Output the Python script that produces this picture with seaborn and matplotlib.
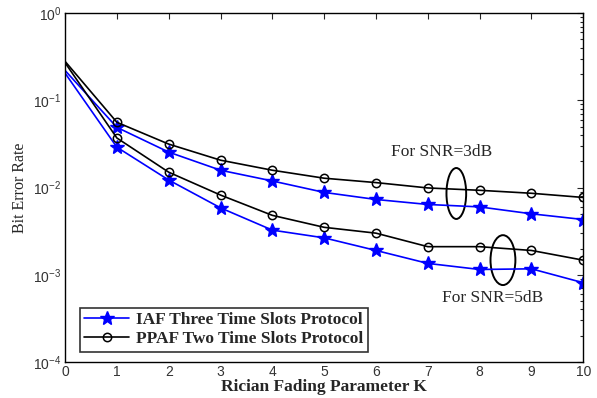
import numpy as np
import pandas as pd
import seaborn as sns
import matplotlib.pyplot as plt
from matplotlib.patches import Ellipse

# values
k = [0, 1, 2, 3, 4, 5, 6, 7, 8, 9, 10]
iaf_snr3 = [0.22, 0.049, 0.0255, 0.0158, 0.0119, 0.0088, 0.0073, 0.0064, 0.0060, 0.0050, 0.0043]
ppaf_snr3 = [0.28, 0.056, 0.0315, 0.0206, 0.0158, 0.0128, 0.0114, 0.0099, 0.0093, 0.0086, 0.0077]
iaf_snr5 = [0.205, 0.029, 0.0122, 0.00585, 0.00325, 0.00265, 0.0019, 0.00135, 0.00115, 0.00117, 0.00081]
ppaf_snr5 = [0.27, 0.037, 0.015, 0.0082, 0.0048, 0.0035, 0.0030, 0.0021, 0.0021, 0.0019, 0.00147]

df = pd.DataFrame({
    'K': k * 4,
    'BER': iaf_snr3 + ppaf_snr3 + iaf_snr5 + ppaf_snr5,
    'curve': ['IAF3'] * 11 + ['PPAF3'] * 11 + ['IAF5'] * 11 + ['PPAF5'] * 11,
})

sns.set_style('white')
plt.rcParams['font.family'] = ['Liberation Serif', 'DejaVu Serif']

fig = plt.figure(figsize=(5.97, 3.98), dpi=100)
ax = fig.add_axes([0.109, 0.0905, 0.868, 0.8765])

styles = {
    'IAF3': dict(color='#0000ff', marker='*', markersize=10, mfc='#0000ff', mec='#0000ff'),
    'IAF5': dict(color='#0000ff', marker='*', markersize=10, mfc='#0000ff', mec='#0000ff'),
    'PPAF3': dict(color='black', marker='o', markersize=6, mfc='none', mec='black', mew=1.1),
    'PPAF5': dict(color='black', marker='o', markersize=6, mfc='none', mec='black', mew=1.1),
}
labels = {'IAF3': 'IAF Three Time Slots Protocol', 'PPAF3': 'PPAF Two Time Slots Protocol'}

for name in ['IAF3', 'PPAF3', 'IAF5', 'PPAF5']:
    sub = df[df['curve'] == name]
    s = styles[name]
    sns.lineplot(data=sub, x='K', y='BER', ax=ax, color=s['color'], marker=s['marker'],
                 markersize=s['markersize'], markerfacecolor=s['mfc'],
                 markeredgecolor=s['mec'], markeredgewidth=s.get('mew', 1.0),
                 markevery=list(range(1, len(k))),
                 linewidth=1.2, label=labels.get(name, '_nolegend_'))

ax.set_yscale('log')
ax.set_xlim(0, 10)
ax.set_ylim(1e-4, 1)
ax.set_xticks(range(11))
ax.tick_params(which='both', direction='in', top=True, right=True, length=4,
               labelsize=10, width=0.8, pad=2.5)
ax.tick_params(which='minor', length=2.5)
for lab in ax.get_xticklabels() + ax.get_yticklabels():
    lab.set_family(['Liberation Sans', 'DejaVu Sans'])
    lab.set_color('#333333')
for sp in ax.spines.values():
    sp.set_linewidth(1.0)
    sp.set_color('black')

ax.set_xlabel('Rician Fading Parameter K', fontsize=12.5, fontweight='bold', labelpad=0)
ax.set_ylabel('Bit Error Rate', fontsize=11.5, labelpad=4)

# annotation ellipses and text
ax.add_patch(Ellipse((0.755, 0.483), 0.038, 0.146, transform=ax.transAxes,
                     fill=False, edgecolor='black', linewidth=1.4))
ax.add_patch(Ellipse((0.845, 0.292), 0.048, 0.143, transform=ax.transAxes,
                     fill=False, edgecolor='black', linewidth=1.4))
ax.text(0.726, 0.602, 'For SNR=3dB', transform=ax.transAxes, fontsize=12.5,
        ha='center', va='center')
ax.text(0.826, 0.183, 'For SNR=5dB', transform=ax.transAxes, fontsize=12.5,
        ha='center', va='center')

leg = ax.legend(loc='lower left', bbox_to_anchor=(0.012, 0.005), fancybox=False,
                framealpha=1, edgecolor='#333333', handlelength=2.6,
                prop={'family': ['Liberation Serif'], 'weight': 'bold', 'size': 12.5},
                borderpad=0.25, labelspacing=0.15, handletextpad=0.4)
leg.get_frame().set_linewidth(1.2)

fig.savefig('out.png', dpi=100)
